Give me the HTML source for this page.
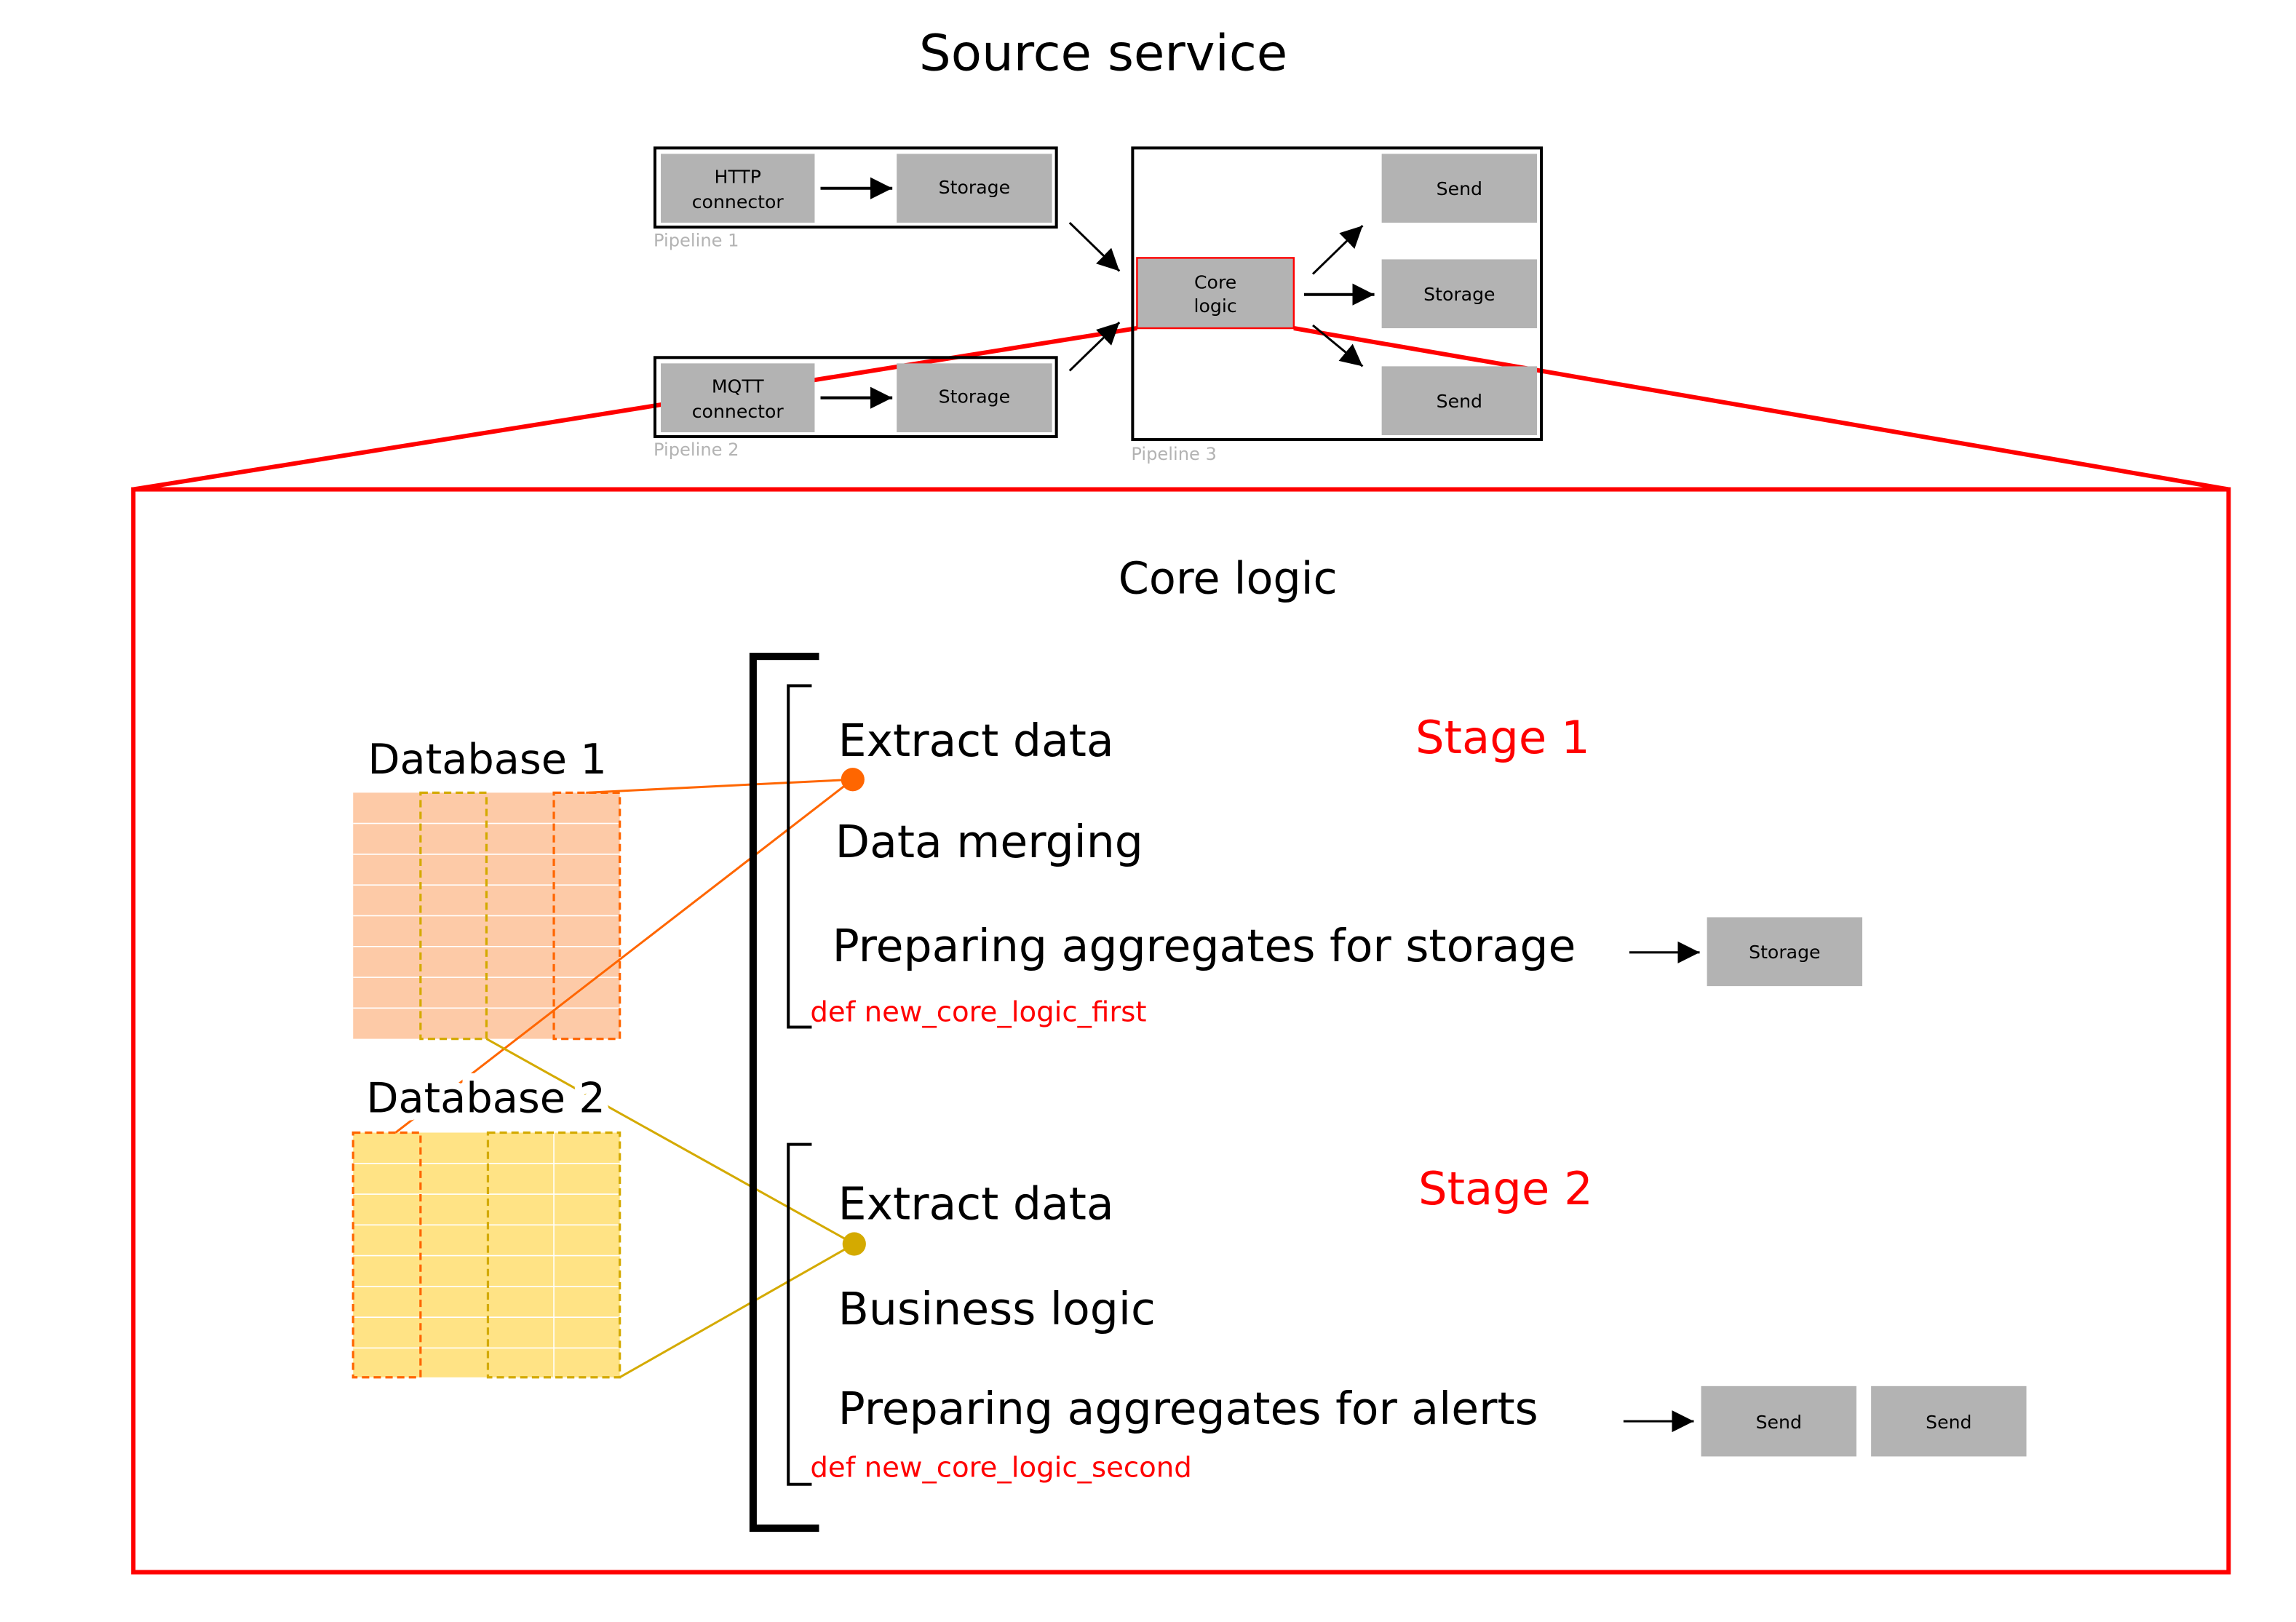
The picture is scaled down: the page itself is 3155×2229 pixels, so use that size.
<!DOCTYPE html>
<html><head><meta charset="utf-8"><style>
html,body{margin:0;padding:0;background:#fff;}
svg{display:block;}
text{font-family:"DejaVu Sans","Liberation Sans",sans-serif;}
</style></head><body>
<svg width="3155" height="2229" viewBox="0 0 1567 1107" preserveAspectRatio="none" xmlns="http://www.w3.org/2000/svg">
<defs>
<marker id="a" viewBox="0 0 10 10" refX="10" refY="5" markerWidth="15" markerHeight="15" orient="auto" markerUnits="userSpaceOnUse"><path d="M0,0 L10,5 L0,10 z" fill="#000"/></marker>
</defs>
<rect width="1567" height="1107" fill="#fff"/>
<text x="753" y="48" font-size="34.3" text-anchor="middle">Source service</text>

<line x1="776" y1="224" x2="91" y2="334" stroke="#f00" stroke-width="3"/>
<line x1="883" y1="224" x2="1521" y2="334" stroke="#f00" stroke-width="3"/>
<rect x="91" y="334" width="1430" height="739" fill="none" stroke="#f00" stroke-width="3"/>

<rect x="447" y="101" width="274" height="54" fill="none" stroke="#000" stroke-width="2"/>
<rect x="451" y="105" width="105" height="47" fill="#b3b3b3"/>
<rect x="612" y="105" width="106" height="47" fill="#b3b3b3"/>
<text x="503.5" y="125" font-size="12.5" text-anchor="middle">HTTP</text>
<text x="503.5" y="142" font-size="12.5" text-anchor="middle">connector</text>
<text x="665" y="132" font-size="12.5" text-anchor="middle">Storage</text>
<line x1="560" y1="128.5" x2="609" y2="128.5" stroke="#000" stroke-width="2" marker-end="url(#a)"/>
<text x="446" y="168" font-size="12" fill="#b3b3b3">Pipeline 1</text>

<rect x="447" y="244" width="274" height="54" fill="none" stroke="#000" stroke-width="2"/>
<rect x="451" y="248" width="105" height="47" fill="#b3b3b3"/>
<rect x="612" y="248" width="106" height="47" fill="#b3b3b3"/>
<text x="503.5" y="268" font-size="12.5" text-anchor="middle">MQTT</text>
<text x="503.5" y="285" font-size="12.5" text-anchor="middle">connector</text>
<text x="665" y="275" font-size="12.5" text-anchor="middle">Storage</text>
<line x1="560" y1="271.5" x2="609" y2="271.5" stroke="#000" stroke-width="2" marker-end="url(#a)"/>
<text x="446" y="311" font-size="12" fill="#b3b3b3">Pipeline 2</text>

<rect x="773" y="101" width="279" height="199" fill="none" stroke="#000" stroke-width="2"/>
<rect x="943" y="105" width="106" height="47" fill="#b3b3b3"/>
<rect x="943" y="177" width="106" height="47" fill="#b3b3b3"/>
<rect x="943" y="250" width="106" height="47" fill="#b3b3b3"/>
<rect x="776" y="176" width="107" height="48" fill="#b3b3b3" stroke="#f00" stroke-width="1.2"/>
<text x="996" y="133" font-size="12.5" text-anchor="middle">Send</text>
<text x="996" y="205" font-size="12.5" text-anchor="middle">Storage</text>
<text x="996" y="278" font-size="12.5" text-anchor="middle">Send</text>
<text x="829.5" y="197" font-size="12.5" text-anchor="middle">Core</text>
<text x="829.5" y="213" font-size="12.5" text-anchor="middle">logic</text>
<text x="772" y="314" font-size="12" fill="#b3b3b3">Pipeline 3</text>
<line x1="730" y1="152" x2="764" y2="185" stroke="#000" stroke-width="1.5" marker-end="url(#a)"/>
<line x1="730" y1="253" x2="764" y2="220" stroke="#000" stroke-width="1.5" marker-end="url(#a)"/>
<line x1="896" y1="187" x2="930" y2="154" stroke="#000" stroke-width="1.5" marker-end="url(#a)"/>
<line x1="890" y1="201" x2="938" y2="201" stroke="#000" stroke-width="2" marker-end="url(#a)"/>
<line x1="896" y1="222" x2="930" y2="250" stroke="#000" stroke-width="1.5" marker-end="url(#a)"/>

<text x="838" y="405" font-size="30" text-anchor="middle">Core logic</text>

<g>
<rect x="241" y="541" width="182" height="168" fill="#fdcaa7"/>
<g stroke="#fff" stroke-width="0.8">
<line x1="241" y1="562" x2="423" y2="562"/><line x1="241" y1="583" x2="423" y2="583"/><line x1="241" y1="604" x2="423" y2="604"/><line x1="241" y1="625" x2="423" y2="625"/><line x1="241" y1="646" x2="423" y2="646"/><line x1="241" y1="667" x2="423" y2="667"/><line x1="241" y1="688" x2="423" y2="688"/>
</g>
<rect x="287" y="541" width="45" height="168" fill="none" stroke="#d4aa00" stroke-width="1.6" stroke-dasharray="5,3"/>
<rect x="378" y="541" width="45" height="168" fill="none" stroke="#ff6600" stroke-width="1.6" stroke-dasharray="5,3"/>

<rect x="241" y="773" width="182" height="167" fill="#ffe385"/>
<g stroke="#fff" stroke-width="0.8">
<line x1="241" y1="794" x2="423" y2="794"/><line x1="241" y1="815" x2="423" y2="815"/><line x1="241" y1="836" x2="423" y2="836"/><line x1="241" y1="857" x2="423" y2="857"/><line x1="241" y1="878" x2="423" y2="878"/><line x1="241" y1="899" x2="423" y2="899"/><line x1="241" y1="920" x2="423" y2="920"/>
<line x1="378" y1="773" x2="378" y2="940"/>
</g>
<rect x="241" y="773" width="46" height="167" fill="none" stroke="#ff6600" stroke-width="1.6" stroke-dasharray="5,3"/>
<rect x="333" y="773" width="90" height="167" fill="none" stroke="#d4aa00" stroke-width="1.6" stroke-dasharray="5,3"/>
</g>

<line x1="400" y1="541" x2="582" y2="532" stroke="#ff6600" stroke-width="1.5"/>
<line x1="582" y1="532" x2="270" y2="773" stroke="#ff6600" stroke-width="1.5"/>
<line x1="332" y1="709" x2="583" y2="849" stroke="#d4aa00" stroke-width="1.5"/>
<line x1="583" y1="849" x2="423" y2="940" stroke="#d4aa00" stroke-width="1.5"/>
<circle cx="582" cy="532" r="8" fill="#ff6600"/>
<circle cx="583" cy="849" r="8" fill="#d4aa00"/>

<text x="251" y="528" font-size="28.5" stroke="#fff" stroke-width="8" paint-order="stroke" stroke-linejoin="round">Database 1</text>
<text x="250" y="759" font-size="28.5" stroke="#fff" stroke-width="10" paint-order="stroke" stroke-linejoin="round">Database 2</text>

<path d="M559,448 H514 V1043 H559" fill="none" stroke="#000" stroke-width="5"/>
<path d="M554,468 H538 V701 H554" fill="none" stroke="#000" stroke-width="2"/>
<path d="M554,781 H538 V1013 H554" fill="none" stroke="#000" stroke-width="2"/>

<text x="572" y="516" font-size="30.6">Extract data</text>
<text x="570" y="585" font-size="30.6">Data merging</text>
<text x="568" y="656" font-size="30.6">Preparing aggregates for storage</text>
<text x="553" y="697" font-size="19.2" fill="#f00">def new_core_logic_first</text>
<text x="966" y="514" font-size="31" fill="#f00">Stage 1</text>

<text x="572" y="832" font-size="30.6">Extract data</text>
<text x="572" y="904" font-size="30.6">Business logic</text>
<text x="572" y="972" font-size="30.6">Preparing aggregates for alerts</text>
<text x="553" y="1008" font-size="19.2" fill="#f00">def new_core_logic_second</text>
<text x="968" y="822" font-size="31" fill="#f00">Stage 2</text>

<line x1="1112" y1="650" x2="1160" y2="650" stroke="#000" stroke-width="1.5" marker-end="url(#a)"/>
<rect x="1165" y="626" width="106" height="47" fill="#b3b3b3"/>
<text x="1218" y="654" font-size="12.5" text-anchor="middle">Storage</text>
<line x1="1108" y1="970" x2="1156" y2="970" stroke="#000" stroke-width="1.5" marker-end="url(#a)"/>
<rect x="1161" y="946" width="106" height="48" fill="#b3b3b3"/>
<rect x="1277" y="946" width="106" height="48" fill="#b3b3b3"/>
<text x="1214" y="975" font-size="12.5" text-anchor="middle">Send</text>
<text x="1330" y="975" font-size="12.5" text-anchor="middle">Send</text>
</svg>
</body></html>
